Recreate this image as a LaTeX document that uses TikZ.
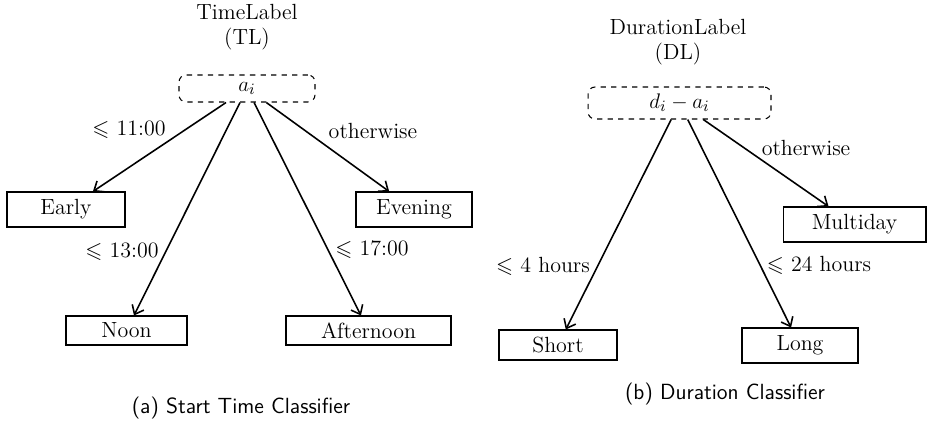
\documentclass[tikz,border=0pt]{standalone}
\usepackage{amssymb}
\usetikzlibrary{arrows.meta}
\begin{document}
\begin{tikzpicture}[x=0.02cm,y=-0.02cm,
  font=\fontsize{12.5}{14.5}\selectfont,
  title/.style={align=center,inner sep=0pt},
  rootbox/.style={draw,dashed,rounded corners=4pt,line width=0.6pt,inner sep=0pt},
  leafbox/.style={draw,line width=0.6pt,inner sep=0pt},
  cond/.style={inner sep=0pt},
  caption/.style={font=\fontsize{12.5}{14.5}\sffamily,inner sep=0pt},
  branch/.style={line width=0.9pt,-{Straight Barb[length=1.6mm,width=2.6mm]}}]
\useasboundingbox (0,0) rectangle (935,422);

% ---- (a) start time classifier ----
\node[title] (tl) at (247,27) {TimeLabel\\(TL)};
\node[rootbox,minimum width=2.72cm,minimum height=0.54cm] (a) at (247,88.5) {$a_i$};

\node[leafbox,minimum width=2.36cm,minimum height=0.70cm] (early) at (66,209.5) {Early};
\node[leafbox,minimum width=2.32cm,minimum height=0.70cm] (evening) at (414,209.5) {Evening};
\node[leafbox,minimum width=2.42cm,minimum height=0.58cm] (noon) at (126.5,330.5) {Noon};
\node[leafbox,minimum width=3.30cm,minimum height=0.58cm] (afternoon) at (368.5,330.5) {Afternoon};

\draw[branch] (a) -- (early);
\draw[branch] (a) -- (noon);
\draw[branch] (a) -- (afternoon);
\draw[branch] (a) -- (evening);

\node[cond] (c11) at (129,130) {$\leqslant$ 11:00};
\node[cond] (cow) at (373,131) {otherwise};
\node[cond] (c13) at (122,252) {$\leqslant$ 13:00};
\node[cond] (c17) at (372,250) {$\leqslant$ 17:00};

\node[caption] (capa) at (241,408) {(a) Start Time Classifier};

% ---- (b) duration classifier ----
\node[title] (dl) at (678,42) {DurationLabel\\(DL)};
\node[rootbox,minimum width=3.66cm,minimum height=0.64cm] (d) at (679.5,103) {$d_i - a_i$};

\node[leafbox,minimum width=2.36cm,minimum height=0.60cm] (short) at (558,345) {Short};
\node[leafbox,minimum width=2.32cm,minimum height=0.70cm] (long) at (800,345.5) {Long};
\node[leafbox,minimum width=2.86cm,minimum height=0.70cm] (multi) at (854.5,224.5) {Multiday};

\draw[branch] (d) -- (short);
\draw[branch] (d) -- (long);
\draw[branch] (d) -- (multi);

\node[cond] (c4h) at (543,266) {$\leqslant$ 4 hours};
\node[cond] (c24h) at (819,265) {$\leqslant$ 24 hours};
\node[cond] (cow2) at (806,148) {otherwise};

\node[caption] (capb) at (725,394) {(b) Duration Classifier};
\end{tikzpicture}
\end{document}
